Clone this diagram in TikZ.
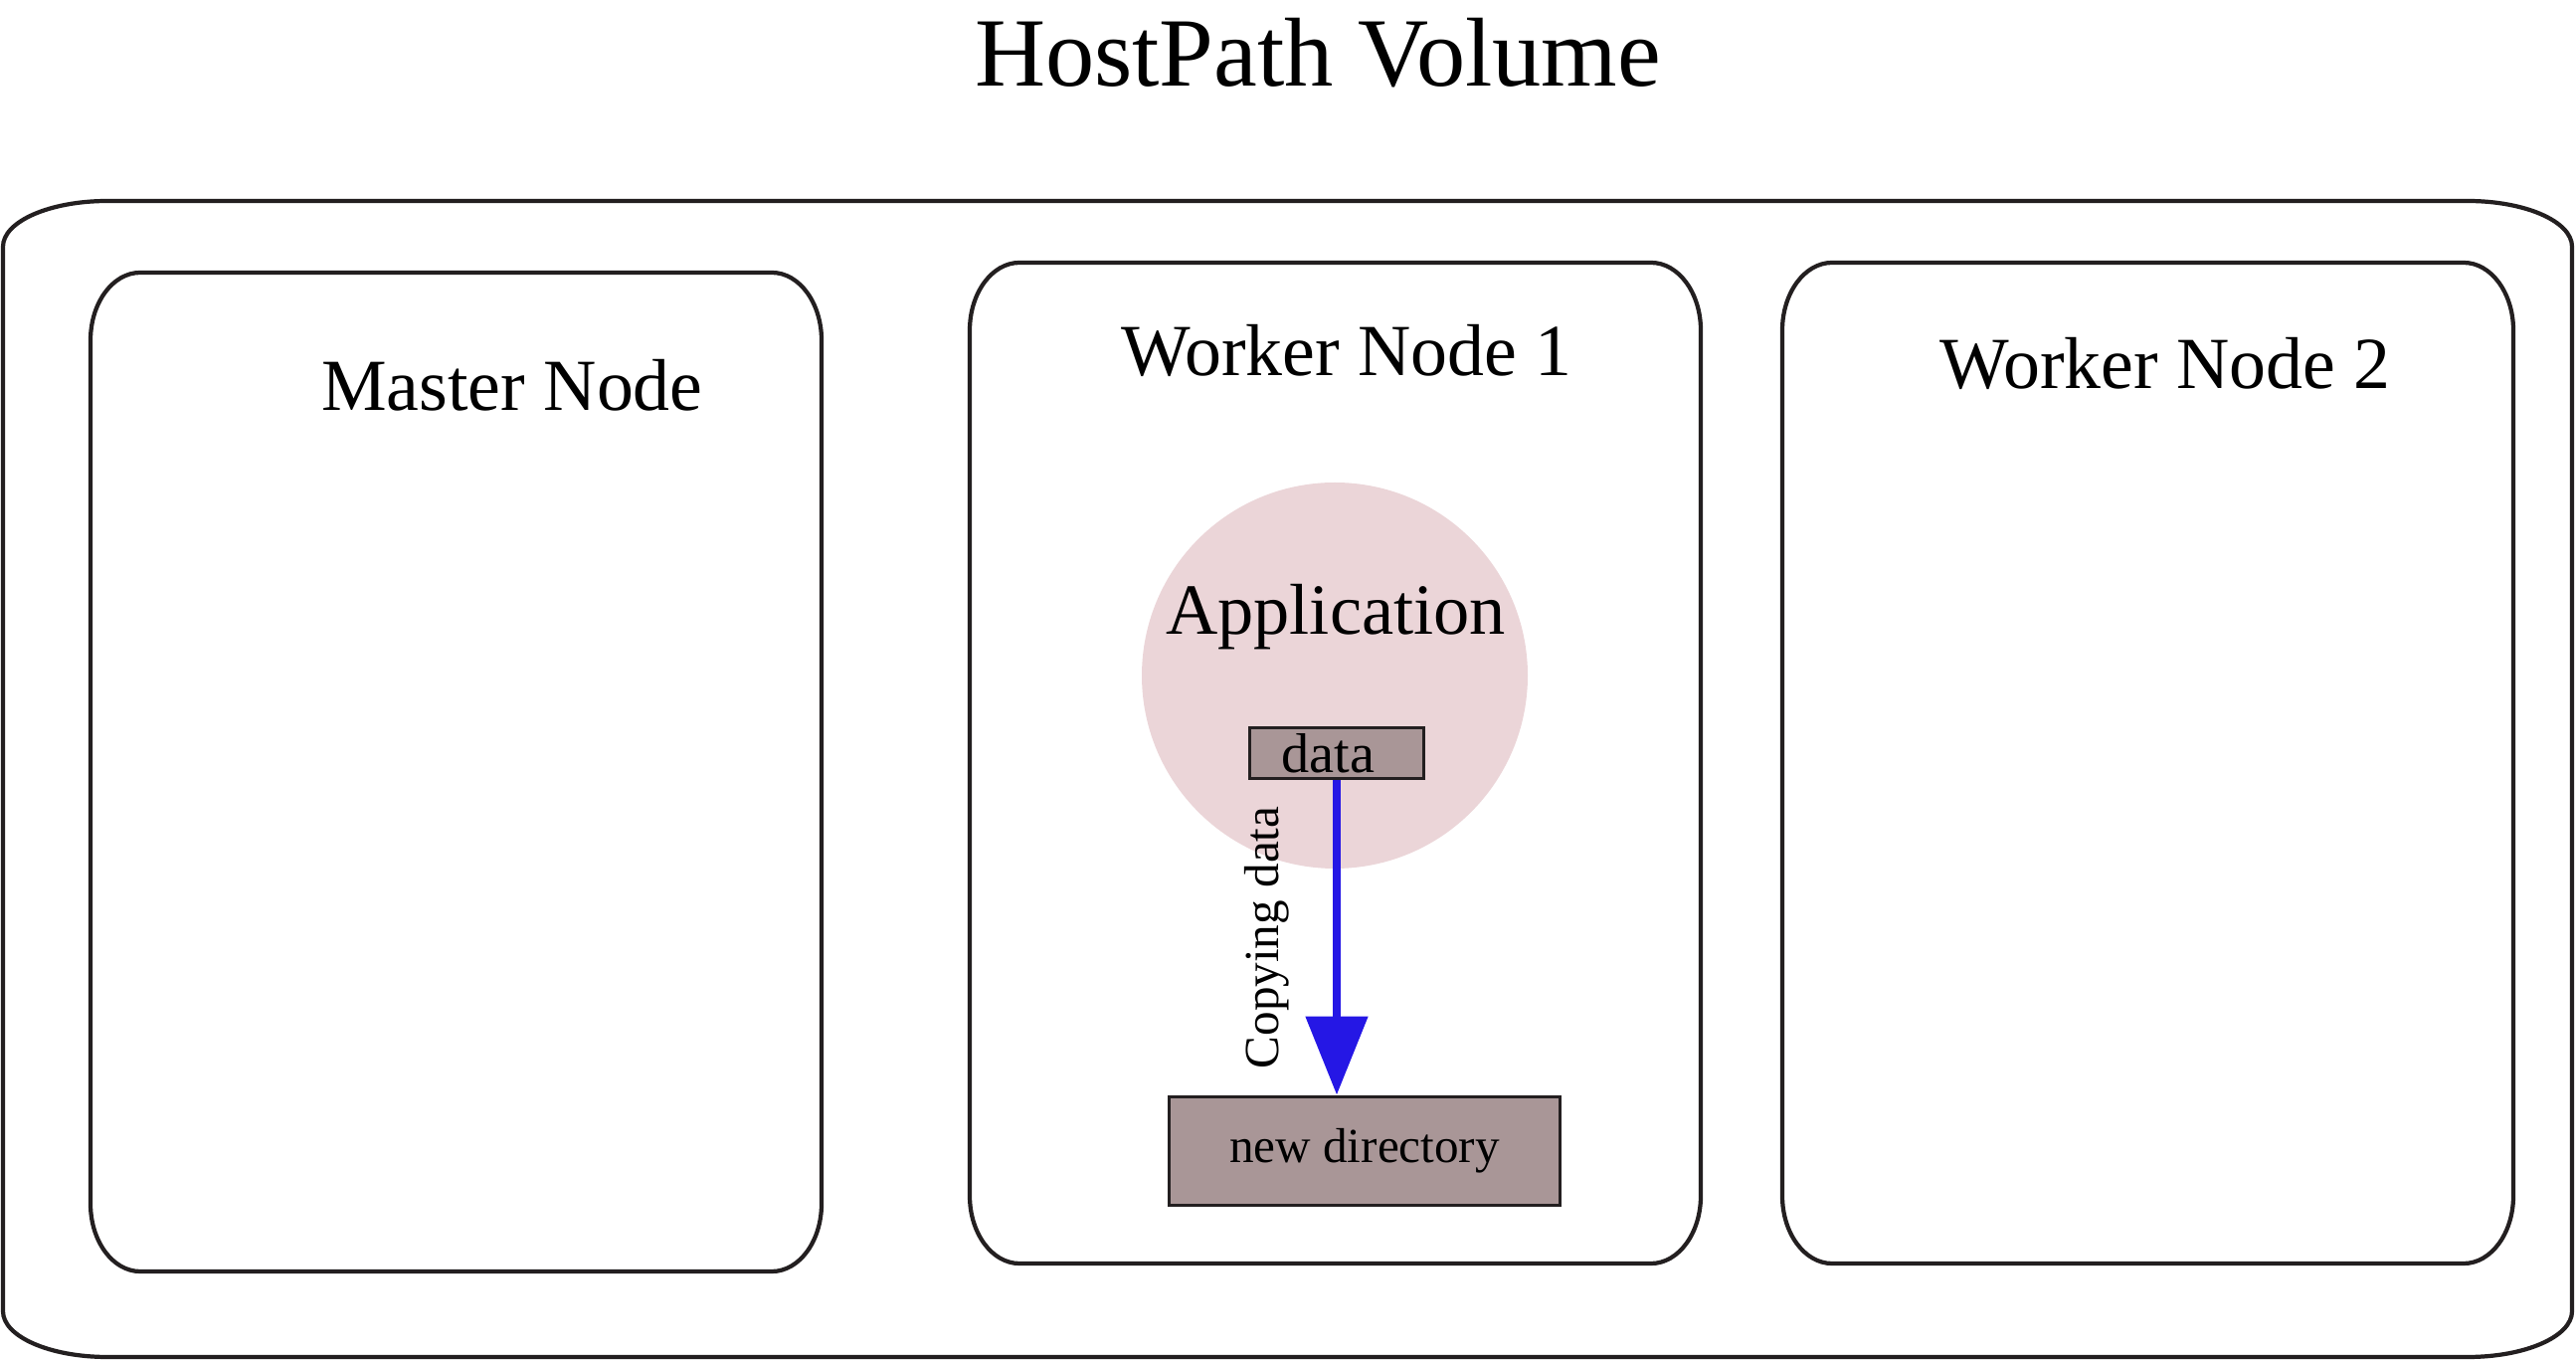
\documentclass[tikz,border=0pt]{standalone}
\usepackage{fontspec}
\setmainfont{Liberation Serif}
\usepackage{xcolor}
\usepackage{tikz}
\usetikzlibrary{arrows.meta,positioning,calc}
\definecolor{edgeblk}{HTML}{231F20}
\definecolor{apppink}{HTML}{EBD5D8}
\definecolor{dirmauve}{HTML}{A99697}
\definecolor{copyblue}{HTML}{2517E5}
\tikzset{
  boxline/.style ={draw=edgeblk,line width=1.2pt},
  titletxt/.style={inner sep=0pt,font=\fontsize{28}{32}\selectfont},
  headtxt/.style ={inner sep=0pt,font=\fontsize{21}{25}\selectfont},
  appcirc/.style ={circle,fill=apppink,draw=none,minimum size=38.8mm,inner sep=0pt},
  apptxt/.style  ={inner sep=0pt,font=\fontsize{20.6}{24}\selectfont},
  store/.style   ={rectangle,draw=edgeblk,line width=1.1pt,fill=dirmauve,inner sep=0pt},
  copy/.style    ={-{Triangle[length=7.9mm,width=6.1mm]},line width=2.4pt,draw=copyblue}
}
% x1,y1,x2,y2,rx,ry
\newcommand{\ovalbox}[6]{%
  \draw[boxline] (#1+#5,#4) -- (#3-#5,#4)
    arc[start angle=90,end angle=0,x radius=#5,y radius=#6]
    -- (#3,#2+#6)
    arc[start angle=0,end angle=-90,x radius=#5,y radius=#6]
    -- (#1+#5,#2)
    arc[start angle=270,end angle=180,x radius=#5,y radius=#6]
    -- (#1,#4-#6)
    arc[start angle=180,end angle=90,x radius=#5,y radius=#6] -- cycle;}
\begin{document}
\begin{tikzpicture}[x=0.1mm,y=0.1mm]
  \useasboundingbox (0,0) rectangle (2590,1367);
  \node[titletxt] (title) at (1325,1314) {HostPath Volume};
  % cluster outlines
  \ovalbox{3}{3}{2586}{1165}{105}{46}
  \ovalbox{91}{89}{826}{1093}{50}{68}
  \ovalbox{975}{97}{1710}{1103}{50}{68}
  \ovalbox{1792}{97}{2527}{1103}{50}{68}
  \node[headtxt] (master) at (515,980) {Master Node};
  \node[headtxt] (worker1) at (1354,1015) {Worker Node 1};
  \node[headtxt] (worker2) at (2177,1002) {Worker Node 2};
  % pod and volume
  \node[appcirc] (app) at (1342,688) {};
  \node[apptxt] (applbl) at (1343,747) {Application};
  \node[store,minimum width=17.5mm,minimum height=5.1mm,
        font=\fontsize{16}{19}\selectfont] (data) at (1344,610) {\hspace*{-5pt}data};
  \node[store,minimum width=39.3mm,minimum height=10.9mm,
        font=\fontsize{14}{17}\selectfont] (newdir) at (1372,210) {new directory};
  \draw[copy] (data.south) -- node[midway,rotate=90,anchor=south,inner sep=4.4mm,
        font=\fontsize{14}{17}\selectfont] {Copying data} (data.south |- newdir.north);
\end{tikzpicture}
\end{document}
